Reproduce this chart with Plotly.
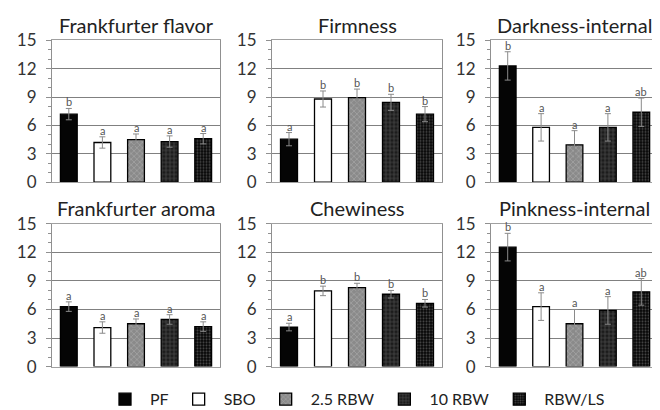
import plotly.graph_objects as go

treatments = ["PF", "SBO", "2.5 RBW", "10 RBW", "RBW/LS"]
attributes = ["Frankfurter flavor", "Firmness", "Darkness-internal",
              "Frankfurter aroma", "Chewiness", "Pinkness-internal"]

flavor_mean = [7.2, 4.2, 4.5, 4.3, 4.6]
flavor_err = [0.6, 0.6, 0.6, 0.6, 0.55]
flavor_letters = ["b", "a", "a", "a", "a"]

firmness_mean = [4.55, 8.8, 8.95, 8.45, 7.2]
firmness_err = [0.7, 0.85, 0.9, 0.85, 0.8]
firmness_letters = ["a", "b", "b", "b", "b"]

darkness_mean = [12.3, 5.8, 3.95, 5.8, 7.4]
darkness_err = [1.5, 1.45, 1.5, 1.45, 1.5]
darkness_letters = ["b", "a", "a", "a", "ab"]

aroma_mean = [6.3, 4.1, 4.5, 4.95, 4.2]
aroma_err = [0.5, 0.6, 0.5, 0.5, 0.5]
aroma_letters = ["a", "a", "a", "a", "a"]

chewiness_mean = [4.15, 7.95, 8.3, 7.6, 6.65]
chewiness_err = [0.4, 0.5, 0.45, 0.4, 0.4]
chewiness_letters = ["a", "b", "b", "b", "b"]

pinkness_mean = [12.55, 6.3, 4.5, 5.9, 7.85]
pinkness_err = [1.45, 1.45, 1.5, 1.45, 1.4]
pinkness_letters = ["b", "a", "a", "a", "ab"]

y_ticks = [0, 3, 6, 9, 12, 15]

means = [flavor_mean, firmness_mean, darkness_mean, aroma_mean, chewiness_mean, pinkness_mean]
errs = [flavor_err, firmness_err, darkness_err, aroma_err, chewiness_err, pinkness_err]
letters = [flavor_letters, firmness_letters, darkness_letters, aroma_letters,
           chewiness_letters, pinkness_letters]

styles = {
    "PF": dict(color="#050505"),
    "SBO": dict(color="#ffffff"),
    "2.5 RBW": dict(color="#8a8a8a",
                    pattern=dict(shape="x", bgcolor="#8a8a8a", fgcolor="#a8a8a8", size=4, solidity=0.3)),
    "10 RBW": dict(color="#1c1c1c",
                   pattern=dict(shape="+", bgcolor="#1c1c1c", fgcolor="#505050", size=4, solidity=0.3)),
    "RBW/LS": dict(color="#050505",
                   pattern=dict(shape=".", bgcolor="#050505", fgcolor="#4a4a4a", size=3, solidity=0.4)),
}

W, H = 660, 410
OFFX = 8
# empirical vertical mapping of the rendered page: screen_y = Y0 + (1 - frac) * HY
Y0, HY = 16.4, 392.4


def fy(screen_y):
    return 1 - (screen_y - Y0) / HY


xdom_px = [(52, 220), (272, 442), (491, 658)]
ydom_px = [(38, 181), (223, 367)]
title_y = [22, 207]

font_fam = "Lato, 'Open Sans', sans-serif"
fig = go.Figure()
layout = dict(width=W, height=H, margin=dict(l=0, r=0, t=0, b=0),
              plot_bgcolor="white", paper_bgcolor="white", barmode="overlay",
              font=dict(family=font_fam, color="#333333"),
              showlegend=True,
              legend=dict(orientation="h", x=(355 - OFFX) / W, xanchor="center",
                          y=fy(400), yanchor="middle", itemwidth=40,
                          font=dict(size=16, color="#222222"),
                          traceorder="normal", tracegroupgap=0))
annotations = []

for p in range(6):
    r, c = divmod(p, 3)
    idx = "" if p == 0 else str(p + 1)
    x0, x1 = xdom_px[c]
    yt, yb = ydom_px[r]
    x0 -= OFFX; x1 -= OFFX
    xd = [x0 / W, x1 / W]
    yd = [fy(yb), fy(yt)]
    layout["xaxis" + idx] = dict(domain=xd, anchor="y" + idx, type="category",
                                 categoryorder="array", categoryarray=treatments,
                                 range=[-0.5, 4.5], showticklabels=False, ticks="",
                                 showline=True, linecolor="#a0a0a0", linewidth=1, mirror=True,
                                 showgrid=False, zeroline=False, fixedrange=True)
    layout["yaxis" + idx] = dict(domain=yd, anchor="x" + idx, range=[0, 15],
                                 tickvals=y_ticks, ticks="outside", ticklen=5, tickcolor="#909090",
                                 ticklabelstandoff=6,
                                 minor=dict(dtick=1, ticks="outside", ticklen=3, tickcolor="#909090"),
                                 tickfont=dict(size=17, color="#333333", family=font_fam),
                                 showline=True, linecolor="#909090", linewidth=1, mirror=True,
                                 showgrid=True, gridcolor="#808080", gridwidth=1,
                                 zeroline=False, fixedrange=True)
    for i, t in enumerate(treatments):
        st = styles[t]
        marker = dict(color=st["color"], line=dict(color="#000000", width=1.3))
        if "pattern" in st:
            marker["pattern"] = dict(fillmode="replace", **st["pattern"])
        fig.add_trace(go.Bar(
            x=[t], y=[means[p][i]], width=0.5, name=t, legendgroup=t,
            showlegend=(p == 0), marker=marker,
            error_y=dict(type="data", array=[errs[p][i]], color="#8a8a8a", thickness=1, width=3),
            xaxis="x" + idx, yaxis="y" + idx))
        annotations.append(dict(x=t, y=means[p][i] + errs[p][i], xref="x" + idx, yref="y" + idx,
                                text=letters[p][i], showarrow=False, yanchor="bottom", yshift=-2,
                                font=dict(size=11, color="#555555", family=font_fam)))
    annotations.append(dict(x=(x0 + x1) / 2 / W, y=fy(title_y[r]), xref="paper", yref="paper",
                            text=attributes[p], showarrow=False, xanchor="center", yanchor="middle",
                            font=dict(size=20, color="#222222", family=font_fam)))

layout["annotations"] = annotations
fig.update_layout(**layout)
fig.write_html("out.html")
